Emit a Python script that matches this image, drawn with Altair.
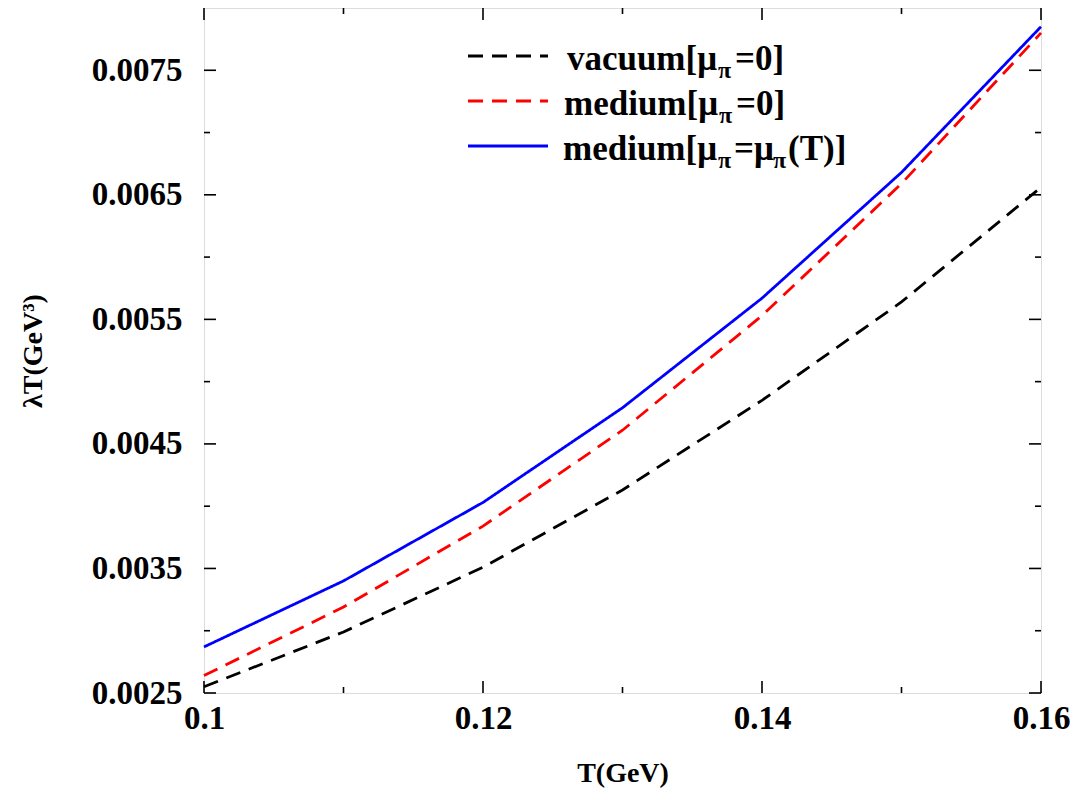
import altair as alt
import pandas as pd

# ---- data ----
T = [0.10, 0.11, 0.12, 0.13, 0.14, 0.15, 0.16]
vacuum = [0.00255, 0.00299, 0.00351, 0.00413, 0.00485, 0.00564, 0.00656]
medium0 = [0.00264, 0.00319, 0.00384, 0.00461, 0.00553, 0.00659, 0.00780]
mediumT = [0.00287, 0.00340, 0.00403, 0.00479, 0.00567, 0.00668, 0.00785]
series_names = ["vacuum", "medium0", "mediumT"]
series_colors = ["#000000", "#ff0000", "#0000ff"]

y_major = [0.0025, 0.0035, 0.0045, 0.0055, 0.0065, 0.0075]
y_minor = [0.0030, 0.0040, 0.0050, 0.0060, 0.0070]
x_major = [0.10, 0.12, 0.14, 0.16]
x_minor = [0.11, 0.13, 0.15]

W, H = 837, 685
FONT = "Liberation Serif"

rows = []
for name, vals in zip(series_names, [vacuum, medium0, mediumT]):
    for t, v in zip(T, vals):
        rows.append({"T": t, "v": v, "series": name})
df = pd.DataFrame(rows)

xs = alt.Scale(domain=[0.1, 0.16], nice=False, zero=False)
ys = alt.Scale(domain=[0.0025, 0.008], nice=False, zero=False)

lines = alt.Chart(df).mark_line(strokeWidth=2.8).encode(
    x=alt.X("T:Q", scale=xs, axis=alt.Axis(
        values=x_major, format="~g", title="T(GeV)", ticks=False, domain=False, grid=False,
        labelFlush=False, labelOverlap=False,
        labelFont=FONT, labelFontWeight="bold", labelFontSize=33, labelPadding=9,
        titleFont=FONT, titleFontWeight="bold", titleFontSize=28,
        titleY=80, titleBaseline="middle")),
    y=alt.Y("v:Q", scale=ys, axis=alt.Axis(
        values=y_major, format=".4f", title="λT(GeV³)", ticks=False, domain=False, grid=False,
        labelFlush=False, labelOverlap=False,
        labelFont=FONT, labelFontWeight="bold", labelFontSize=33, labelPadding=22,
        titleFont=FONT, titleFontWeight="bold", titleFontSize=28,
        titleX=-171, titleY=H / 2, titleAngle=-90, titleAlign="center", titleBaseline="middle")),
    color=alt.Color("series:N", scale=alt.Scale(domain=series_names, range=series_colors), legend=None),
    strokeDash=alt.StrokeDash("series:N", scale=alt.Scale(domain=series_names,
                                                          range=[[15, 9], [15, 9], [1, 0]]), legend=None),
    order=alt.Order("T:Q"),
)

layers = [lines]

def ytick_layer(vals, x0, x1):
    return alt.Chart(pd.DataFrame({"v": vals})).mark_rule(color="black", strokeWidth=1.6).encode(
        y=alt.Y("v:Q", scale=ys), x=alt.value(x0), x2=alt.value(x1))

def xtick_layer(vals, y0, y1):
    return alt.Chart(pd.DataFrame({"t": vals})).mark_rule(color="black", strokeWidth=1.6).encode(
        x=alt.X("t:Q", scale=xs), y=alt.value(y0), y2=alt.value(y1))

layers += [
    ytick_layer(y_major, 0, 12), ytick_layer(y_minor, 0, 6),
    ytick_layer(y_major, W, W - 12), ytick_layer(y_minor, W, W - 6),
    xtick_layer(x_major, H, H - 12), xtick_layer(x_minor, H, H - 6),
    xtick_layer(x_major, 0, 12), xtick_layer(x_minor, 0, 6),
]

one = pd.DataFrame({"a": [0]})

# legend line samples
leg_y = [48, 93, 138]
leg_dash = [[15, 9], [15, 9], [1, 0]]
for yy, col, dash in zip(leg_y, series_colors, leg_dash):
    layers.append(alt.Chart(one).mark_rule(color=col, strokeWidth=2.8, strokeDash=dash).encode(
        x=alt.value(264), x2=alt.value(344), y=alt.value(yy)))

def txt(s, x, y, size, align="left"):
    return alt.Chart(one).mark_text(font=FONT, fontWeight="bold", fontSize=size, align=align,
                                    baseline="alphabetic", color="black").encode(
        x=alt.value(x), y=alt.value(y), text=alt.value(s))

main = 35
sub = 24
layers += [
    txt("vacuum[μ", 513, 62, main, "right"), txt("π", 514, 70, sub), txt("=0]", 531, 62, main),
    txt("medium[μ", 514, 107, main, "right"), txt("π", 515, 115, sub), txt("=0]", 532, 107, main),
    txt("medium[μ", 513, 152, main, "right"), txt("π", 514, 160, sub), txt("=μ", 530, 152, main),
    txt("π", 569, 160, sub), txt("(T)]", 584, 152, main),
]

chart = alt.layer(*layers).properties(
    width=W, height=H,
    autosize=alt.AutoSizeParams(type="none"),
    padding={"left": 204, "top": 8, "right": 36, "bottom": 97},
).configure_view(stroke="black", strokeWidth=3).configure(background="white")

chart.save("out.html", embed_options={"renderer": "svg", "actions": False})
